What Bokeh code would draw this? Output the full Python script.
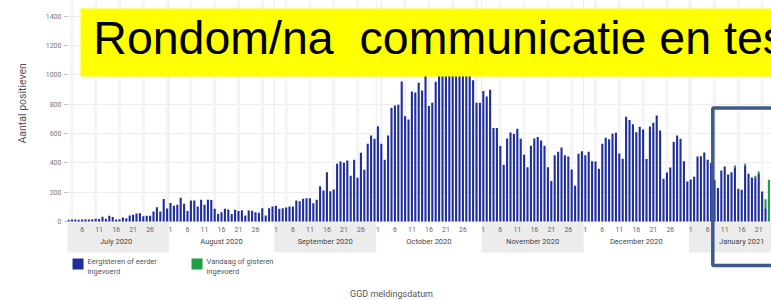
import numpy as np
import pandas as pd
from bokeh.plotting import figure
from bokeh.models import Range1d, FixedTicker, ColumnDataSource, Title
from bokeh.core.properties import value
from bokeh.embed import file_html
from bokeh.resources import INLINE

# ---------------- data (daily positives) ----------------
first_day = "2020-07-02"
jul = [12, 14, 13, 12, 14, 15, 13, 16, 18, 17, 32, 18, 39, 30, 14, 15, 27, 23, 41, 46,
       55, 57, 36, 39, 40, 68, 98, 68, 153, 89]
aug = [127, 107, 114, 162, 121, 71, 143, 143, 102, 148, 114, 148, 146, 87, 52, 64, 87, 82,
       52, 80, 71, 77, 41, 75, 73, 64, 59, 91, 41, 91, 102]
sep = [107, 87, 91, 96, 102, 102, 143, 139, 155, 159, 159, 125, 148, 241, 212, 337, 207, 219,
       394, 410, 401, 417, 312, 421, 298, 469, 353, 531, 587, 565]
okt = [651, 531, 421, 587, 776, 792, 797, 956, 719, 697, 888, 881, 947, 895, 1020, 788, 811,
       954, 1080, 1150, 1120, 1200, 1180, 1100, 1060, 1140, 1170, 1050, 965, 811, 811]
nov = [890, 854, 899, 638, 638, 515, 387, 567, 608, 597, 633, 565, 455, 371, 517, 567, 576,
       553, 517, 371, 276, 453, 476, 505, 453, 444, 355, 244, 462, 480]
dec = [453, 476, 412, 410, 360, 530, 572, 562, 599, 606, 464, 428, 715, 692, 663, 610, 647,
       628, 426, 649, 674, 724, 622, 291, 335, 369, 542, 587, 565, 412, 273]
jan_eerder = [287, 305, 444, 446, 471, 421, 400, 285, 228, 348, 376, 321, 337, 365, 223, 216,
              380, 326, 301, 300, 328, 205, 90, 0]
jan_recent = [0, 0, 0, 0, 0, 0, 0, 0, 0, 0, 0, 0, 0, 17, 0, 0, 14, 0, 0, 13, 14, 0, 62, 285]

month_names = ["July 2020", "August 2020", "September 2020", "October 2020",
               "November 2020", "December 2020", "January 2021"]
shaded_months = [0, 2, 4, 6]
day_tick_days = [1, 6, 11, 16, 21, 26]
y_ticks = [0, 200, 400, 600, 800, 1000, 1200, 1400]

legend_labels = [["Eergisteren of eerder", "ingevoerd"], ["Vandaag of gisteren", "ingevoerd"]]
title_text = "Rondom/na\u00a0 communicatie en testen"
x_title = "GGD meldingsdatum"
y_title = "Aantal positieven"

# ---------------- derived ----------------
eerder = jul + aug + sep + okt + nov + dec + jan_eerder
recent = [0] * (len(eerder) - len(jan_recent)) + jan_recent
origin = pd.Timestamp("2020-07-01")
dates = pd.date_range(first_day, periods=len(eerder), freq="D")
day = (dates - origin).days.to_numpy().astype(float)
total = [a + b for a, b in zip(eerder, recent)]
src = ColumnDataSource(dict(day=day, eerder=eerder, total=total))

month_starts = pd.date_range("2020-07-01", periods=8, freq="MS")
ms_day = (month_starts - origin).days.to_numpy().astype(float)

# ranges / layout constants
X0, X1 = 0.706, 207.76
Y0, Y1 = -539.2, 1508.5
BAND_TOP, BAND_BOT = -6.8, -211.6
DAY_LBL_Y, MONTH_LBL_Y = -54.6, -136.5

BLUE = "#1f2e9c"
GREEN = "#1E9E45"

p = figure(width=771, height=300, x_axis_type=None, output_backend="svg",
           toolbar_location=None, x_range=Range1d(X0, X1), y_range=Range1d(Y0, Y1),
           min_border_left=67, min_border_right=0, min_border_top=0, min_border_bottom=0)
p.outline_line_color = None
p.background_fill_color = "white"

p.yaxis.ticker = FixedTicker(ticks=y_ticks)
p.yaxis.axis_line_color = None
p.yaxis.major_tick_line_color = "#b5b5b5"
p.yaxis.major_tick_out = 3
p.yaxis.major_tick_in = 0
p.yaxis.minor_tick_line_color = None
p.yaxis.major_label_text_font_size = "7px"
p.yaxis.major_label_text_color = "#777777"
p.yaxis.major_label_text_font = "Roboto"
p.yaxis.major_label_standoff = 3
p.ygrid.grid_line_color = "#ececec"
p.xgrid.visible = False

# y title on the left, placed along the upper part like the reference
p.add_layout(Title(text=y_title, align="left", offset=157, standoff=27,
                   text_font_size="10.5px", text_font_style="normal",
                   text_color="#555555", text_font="Roboto"), "left")

# faint vertical guide lines (weekly) and month boundaries
week_x = np.arange(2, X1, 7)
p.segment(x0=week_x, y0=0, x1=week_x, y1=Y1, line_color="#f4f4f4", line_width=3)
p.segment(x0=ms_day - 0.5, y0=0, x1=ms_day - 0.5, y1=Y1, line_color="#e9e9e9", line_width=1)

# shaded month bands below the axis
p.quad(left=[ms_day[i] - 0.5 for i in shaded_months],
       right=[ms_day[i + 1] - 0.5 for i in shaded_months],
       bottom=BAND_BOT, top=BAND_TOP, fill_color="#ececec", line_color=None)

# day labels and month labels
tick_dates = [d for d in pd.date_range("2020-07-01", "2021-01-31", freq="D") if d.day in day_tick_days]
tick_x = [(d - origin).days for d in tick_dates]
keep = [i for i, x in enumerate(tick_x) if X0 + 1 < x < X1 - 1.5]
p.text(x=[tick_x[i] for i in keep], y=DAY_LBL_Y, text=[str(tick_dates[i].day) for i in keep],
       text_align="center", text_baseline="middle",
       text_font_size="7px", text_color="#666666", text_font=value("Roboto"))
month_x = [(ms_day[i] + ms_day[i + 1] - 1) / 2 for i in range(7)]
p.text(x=month_x, y=MONTH_LBL_Y, text=month_names, text_align="center", text_baseline="middle",
       text_font_size="7.5px", text_color="#444444", text_font=value("Roboto"))

# bars
p.vbar(x="day", top="eerder", bottom=0, width=0.62, source=src, fill_color=BLUE, line_color=None)
p.vbar(x="day", top="total", bottom="eerder", width=0.62, source=src, fill_color=GREEN, line_color=None)

# legend
leg_x = [3.8, 38.8]
p.scatter(x=leg_x, y=[-290, -290], marker="square", size=11, fill_color=[BLUE, GREEN], line_color=None)
for lx, lab in zip(leg_x, legend_labels):
    p.text(x=[lx + 2.8, lx + 2.8], y=[-273, -341], text=lab, text_align="left",
           text_baseline="middle", text_font_size="7.5px", text_color="#555555",
           text_font=value("Roboto"))

# x title
p.text(x=[96], y=[-498], text=[x_title], text_align="center", text_baseline="middle",
       text_font_size="9px", text_color="#555555", text_font=value("Roboto"))

# yellow banner overlay
p.quad(left=[4.53], right=[X1 + 50], bottom=[990], top=[1454], fill_color="#FFFF00", line_color=None)
p.text(x=[8.3], y=[1250], text=[title_text], text_align="left", text_baseline="alphabetic",
       text_font_size="46.5px", text_color="#000000", text_font=value("Liberation Sans"))

# blue highlight rectangle
p.quad(left=[190.5], right=[X1 + 50], bottom=[-300], top=[775], fill_color=None,
       line_color="#3C5A8C", line_width=3.5)

open("out.html", "w").write(file_html(p, INLINE))
